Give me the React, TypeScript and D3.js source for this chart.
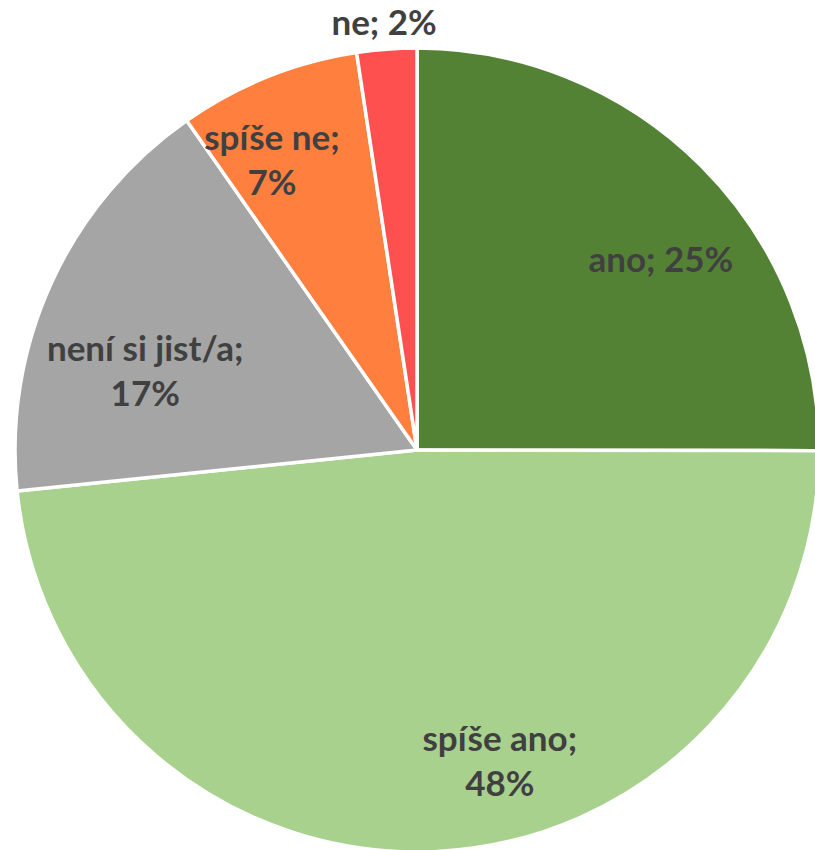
import React from "react";
import * as d3 from "d3";

const categories = ["ano", "spíše ano", "není si jist/a", "spíše ne", "ne"];
const values = [25.0, 48.3, 16.9, 7.3, 2.4];
const percentLabels = ["25%", "48%", "17%", "7%", "2%"];
const colors = ["#548235", "#A9D18E", "#A5A5A5", "#FF7F3F", "#FF5050"];

// label layout: polar position (degrees clockwise from top, radius) and line split
const labelLayout = [
  { angle: 52.1, r: 309, lines: 1 },
  { angle: 165.1, r: 322, lines: 2 },
  { angle: 286.2, r: 283, lines: 2 },
  { angle: 333.4, r: 324, lines: 2 },
  { angle: 355.6, r: 429, lines: 1 },
];

const W = 815;
const H = 850;
const CX = 417;
const CY = 450;
const R = 402;

export default function App() {
  const pie = d3
    .pie<number>()
    .sort(null)
    .value((d) => d);
  const arcs = pie(values);
  const arcGen = d3.arc<d3.PieArcDatum<number>>().innerRadius(0).outerRadius(R);
  const fontSize = 35;
  const lineH = 45;

  return (
    <svg
      width={W}
      height={H}
      style={{ position: "absolute", left: 0, top: 0, background: "#fff" }}
    >
      <g transform={`translate(${CX},${CY})`}>
        {arcs.map((a, i) => (
          <path
            key={categories[i]}
            d={arcGen(a) || ""}
            fill={colors[i]}
            stroke="#ffffff"
            strokeWidth={3.5}
            strokeLinejoin="round"
          />
        ))}
        {arcs.map((a, i) => {
          const L = labelLayout[i];
          const t = (L.angle * Math.PI) / 180;
          const x = L.r * Math.sin(t);
          const y = -L.r * Math.cos(t);
          const texts =
            L.lines === 1
              ? [`${categories[i]}; ${percentLabels[i]}`]
              : [`${categories[i]};`, percentLabels[i]];
          const y0 = y - ((texts.length - 1) * lineH) / 2;
          return (
            <text
              key={"l" + i}
              textAnchor="middle"
              fontFamily="Lato, 'Open Sans', sans-serif"
              fontWeight="bold"
              fontSize={fontSize}
              fill="#404040"
            >
              {texts.map((s, k) => (
                <tspan key={k} x={x} y={y0 + k * lineH} dy="0.35em">
                  {s}
                </tspan>
              ))}
            </text>
          );
        })}
      </g>
    </svg>
  );
}
